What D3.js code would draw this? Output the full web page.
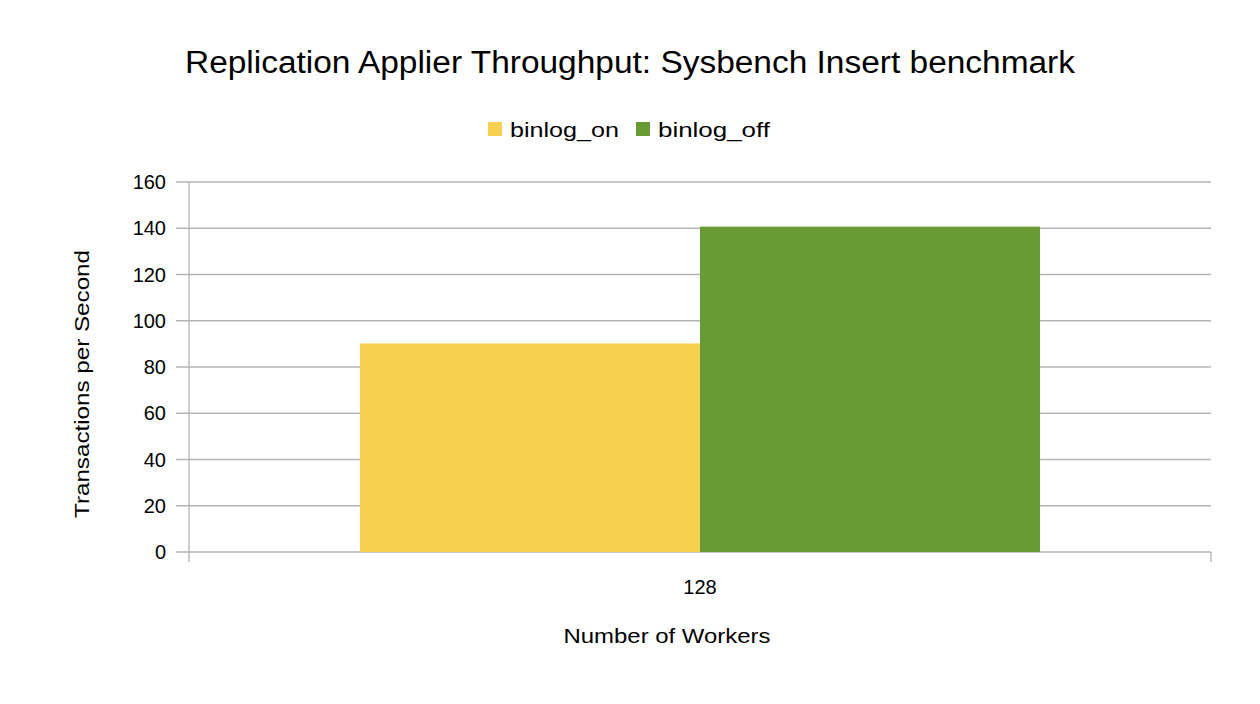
<!DOCTYPE html>
<html>
<head>
<meta charset="utf-8">
<script src="https://cdn.jsdelivr.net/npm/d3@7"></script>
<style>
  body { margin: 0; background: #fff; }
  text { font-family: "Liberation Sans", Arial, sans-serif; fill: #000; }
</style>
</head>
<body>
<svg id="chart" width="1260" height="704"></svg>
<script>
var categories = ["128"];
var seriesNames = ["binlog_on", "binlog_off"];
var seriesColors = ["#f7d04f", "#699b34"];
var binlogOn = [90.2];
var binlogOff = [140.7];
var yTicks = [0, 20, 40, 60, 80, 100, 120, 140, 160];

var svg = d3.select("#chart");
var plotLeft = 189, plotRight = 1211, plotTop = 182, plotBottom = 552;

var x = d3.scaleBand().domain(categories).range([plotLeft, plotRight]);
var y = d3.scaleLinear().domain([0, 160]).range([plotBottom, plotTop]);
var groupWidth = 680;
var xs = d3.scaleBand().domain(seriesNames).range([0, groupWidth]);

// gridlines
svg.selectAll(".grid").data(yTicks).enter().append("line")
    .attr("x1", plotLeft - 13).attr("x2", plotRight)
    .attr("y1", function(d) { return y(d); }).attr("y2", function(d) { return y(d); })
    .attr("stroke", "#b3b3b3").attr("stroke-width", 1.3);

svg.selectAll(".ytick").data(yTicks).enter().append("text")
    .attr("x", 166).attr("y", function(d) { return y(d) + 7; })
    .attr("text-anchor", "end").attr("font-size", 20).text(function(d) { return d; });

// bars
var values = [binlogOn, binlogOff];
categories.forEach(function(cat, i) {
    var start = x(cat) + (x.bandwidth() - groupWidth) / 2;
    seriesNames.forEach(function(s, j) {
        svg.append("rect")
            .attr("x", start + xs(s)).attr("width", xs.bandwidth())
            .attr("y", y(values[j][i])).attr("height", plotBottom - y(values[j][i]))
            .attr("fill", seriesColors[j]);
    });
});

// axes
svg.append("line").attr("x1", plotLeft).attr("x2", plotLeft).attr("y1", plotTop).attr("y2", plotBottom + 10)
    .attr("stroke", "#b3b3b3").attr("stroke-width", 1.3);
svg.append("line").attr("x1", plotRight).attr("x2", plotRight).attr("y1", plotBottom).attr("y2", plotBottom + 10)
    .attr("stroke", "#b3b3b3").attr("stroke-width", 1.3);

svg.selectAll(".xtick").data(categories).enter().append("text")
    .attr("x", function(d) { return x(d) + x.bandwidth() / 2; }).attr("y", 594)
    .attr("text-anchor", "middle").attr("font-size", 20).text(function(d) { return d; });

// titles
svg.append("text").attr("x", 630).attr("y", 73).attr("text-anchor", "middle")
    .attr("font-size", 31).attr("textLength", 890).attr("lengthAdjust", "spacingAndGlyphs")
    .text("Replication Applier Throughput: Sysbench Insert benchmark");
svg.append("text").attr("x", 667).attr("y", 643).attr("text-anchor", "middle")
    .attr("font-size", 21).attr("textLength", 207).attr("lengthAdjust", "spacingAndGlyphs")
    .text("Number of Workers");
svg.append("text").attr("transform", "translate(89,384) rotate(-90)").attr("text-anchor", "middle")
    .attr("font-size", 21).attr("textLength", 268).attr("lengthAdjust", "spacingAndGlyphs")
    .text("Transactions per Second");

// legend
var legendX = [488, 636];
var legendLen = [109, 112];
seriesNames.forEach(function(s, j) {
    svg.append("rect").attr("x", legendX[j]).attr("y", 122).attr("width", 14).attr("height", 14)
        .attr("fill", seriesColors[j]);
    svg.append("text").attr("x", legendX[j] + 22).attr("y", 137).attr("font-size", 20)
        .attr("textLength", legendLen[j]).attr("lengthAdjust", "spacingAndGlyphs").text(s);
});
</script>
</body>
</html>
